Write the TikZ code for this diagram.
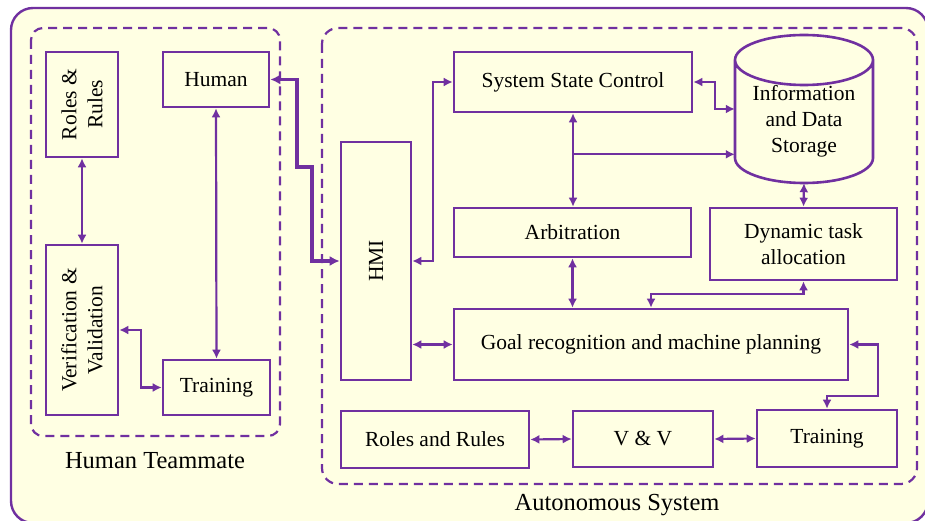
\documentclass[tikz,border=0pt]{standalone}
\usepackage{fontspec}
\setmainfont{Liberation Serif}
\usetikzlibrary{arrows.meta,calc}
\definecolor{pur}{HTML}{7030A0}
\definecolor{bg}{HTML}{FFFFE3}
\tikzset{
  box/.style={draw=pur, line width=2.6pt, fill=bg, inner sep=0pt, align=center, font=\fontsize{21.5}{26}\selectfont},
  arr/.style={draw=pur, line width=2.2pt, {Latex[length=9pt,width=9pt]}-{Latex[length=9pt,width=9pt]}},
  arrone/.style={draw=pur, line width=2.2pt, -{Latex[length=9pt,width=9pt]}},
  thickarr/.style={draw=pur, line width=3.8pt, {Latex[length=10pt,width=10pt]}-{Latex[length=10pt,width=10pt]}},
  dbox/.style={draw=pur, line width=2.2pt, dash pattern=on 9pt off 6pt},
  lbl/.style={font=\fontsize{24.5}{28}\selectfont, inner sep=0pt},
  rtext/.style={rotate=90, align=center, inner sep=0pt, font=\fontsize{21.5}{26}\selectfont}
}
\begin{document}
\begin{tikzpicture}[x=1pt,y=-1pt]
\useasboundingbox (0,0) rectangle (925,521);
\clip (0,0) rectangle (925,521);
\fill[white] (0,0) rectangle (925,521);
\draw[draw=pur, line width=2.4pt, fill=bg, rounded corners=22pt] (11,8) rectangle (928,523);
% group frames
\draw[dbox, rounded corners=12pt] (31,28) rectangle (280,436);
\draw[dbox, rounded corners=16pt] (322,28) rectangle (917,484);
\node[lbl] (hlbl) at (155,461) {Human Teammate};
\node[lbl] (albl) at (617,505) {Autonomous System};
% human side
\node[box, minimum width=72pt, minimum height=105pt] (rr) at (82,104.5) {};
\node[rtext] (rrt) at (rr) {Roles \&\\Rules};
\node[box, minimum width=72pt, minimum height=170pt] (vv) at (82,330) {};
\node[rtext] (vvt) at (vv) {Verification \&\\Validation};
\node[box, minimum width=106pt, minimum height=55pt] (human) at (216,79.5) {Human};
\node[box, minimum width=107pt, minimum height=55pt] (trainL) at (216.5,387.5) {Training};
% autonomous side
\node[box, minimum width=70pt, minimum height=238pt] (hmi) at (376,261) {};
\node[rtext] (hmit) at (hmi) {HMI};
\node[box, minimum width=238pt, minimum height=60pt] (ssc) at (573,82) {System State Control};
\node[inner sep=0pt, minimum width=138pt, minimum height=148pt] (db) at (804,109) {};
\draw[draw=pur, line width=2.6pt, fill=bg]
  (735,60) -- (735,158) arc[start angle=180, end angle=360, x radius=69pt, y radius=25pt]
  -- (873,60) arc[start angle=0, end angle=-180, x radius=69pt, y radius=25pt] -- cycle;
\draw[draw=pur, line width=2.6pt]
  (735,60) arc[start angle=180, end angle=0, x radius=69pt, y radius=25pt];
\node[align=center, font=\fontsize{21.5}{26}\selectfont, inner sep=0pt] (dbt) at (804,121) {Information\\and Data\\Storage};
\node[box, minimum width=237pt, minimum height=49pt] (arb) at (572.5,232.5) {Arbitration};
\node[box, minimum width=187pt, minimum height=72pt] (dta) at (803.5,244) {Dynamic task\\allocation};
\node[box, minimum width=394pt, minimum height=71pt] (goal) at (651,344.5) {Goal recognition and machine planning};
\node[box, minimum width=188pt, minimum height=57pt] (rr2) at (435,439.5) {Roles and Rules};
\node[box, minimum width=140pt, minimum height=56pt] (vv2) at (643,439) {V \& V};
\node[box, minimum width=140pt, minimum height=57pt] (tr2) at (827,438.5) {Training};
% connectors human side
\draw[arr] (rr.south) -- (vv.north);
\draw[arr] (human.south) -- (trainL.north);
\draw[arr] (vv.east) -- ++(22,0) |- (trainL.west);
\draw[thickarr] (human.east) -| (297,167) -| (312,261) -- (hmi.west);
% connectors autonomous side
\draw[arr] (hmi.east) -- (433,261) |- (ssc.west);
\draw[arr] (ssc.east) -- ++(22,0) |- (db.west);
\draw[arr] (ssc.south) -- (ssc.south |- arb.north);
\coordinate (br) at ($(ssc.south)+(0,41)$);
\draw[arrone] (br) -- (br -| db.west);
\draw[arr] (arb.south) -- (arb.south |- goal.north);
\draw[arr] (goal.north) -- ++(0,-14) -| (dta.south);
\draw[arr] (hmi.east |- goal.west) -- (goal.west);
\draw[arr] (goal.east) -- ++(29,0) -- ++(0,51.5) -| (tr2.north);
\draw[arr] (rr2.east) -- (vv2.west);
\draw[arr] (vv2.east) -- (tr2.west);
\draw[arr] (db.south) -- (dta.north);
\end{tikzpicture}
\end{document}
